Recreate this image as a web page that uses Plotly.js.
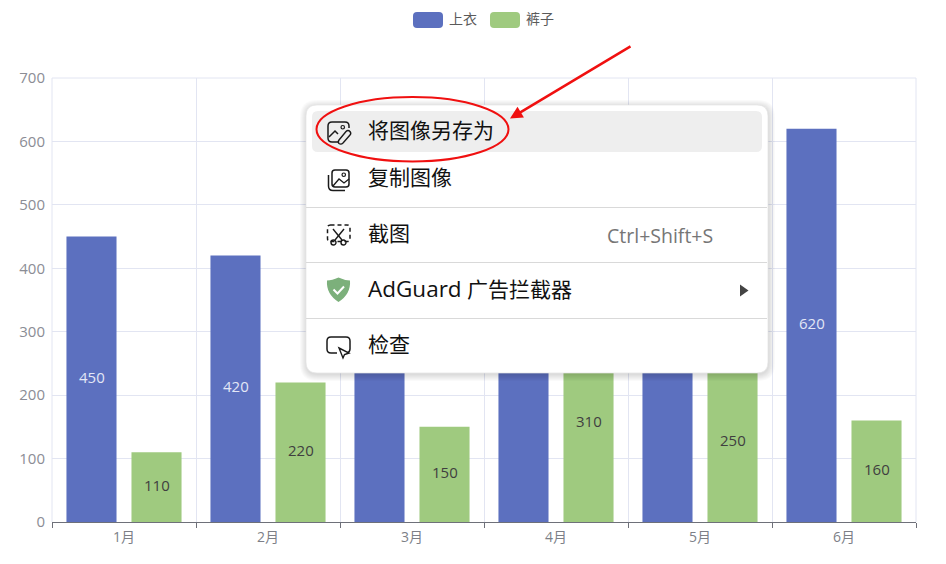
<!DOCTYPE html>
<html><head><meta charset="utf-8">
<script src="https://cdn.plot.ly/plotly-3.0.1.min.js"></script>
<style>html,body{margin:0;padding:0;background:#fff}#c{width:946px;height:564px}</style>
</head><body><div id="c"></div>
<script>
var categories = ['1月','2月','3月','4月','5月','6月'];
var seriesNames = ['上衣','裤子'];
var topsValues = [450,420,500,550,520,620];
var pantsValues = [110,220,150,310,250,160];
// the labels of 3月, 4月 and 5月 上衣 lie behind the context menu in the reference
var topsLabels = ['450','420','','','','620'];
var pantsLabels = ['110','220','150','310','250','160'];
var menuItems = ['将图像另存为','复制图像','截图','<span style="font-size:22.5px">AdGuard</span> 广告拦截器','检查'];
var shortcutText = 'Ctrl+Shift+S';

var W=946,H=564,L=52,R=916,T=78,B=522;
var FONT='"Open Sans","Noto Sans CJK SC",sans-serif';
function px(x){return (x-L)/(R-L);}
function py(y){return (B-y)/(B-T);}
function P(s){
  return s.replace(/(-?[\d.]+)[ ,](-?[\d.]+)/g,function(m,a,b){return px(+a).toFixed(5)+','+py(+b).toFixed(5);});
}
function rr(x0,y0,x1,y1,r){
  return P('M'+(x0+r)+' '+y0+' L'+(x1-r)+' '+y0+' Q'+x1+' '+y0+' '+x1+' '+(y0+r)+
    ' L'+x1+' '+(y1-r)+' Q'+x1+' '+y1+' '+(x1-r)+' '+y1+' L'+(x0+r)+' '+y1+
    ' Q'+x0+' '+y1+' '+x0+' '+(y1-r)+' L'+x0+' '+(y0+r)+' Q'+x0+' '+y0+' '+(x0+r)+' '+y0+' Z');
}
var GRID='#E2E5F2';
var shapes=[];
function fill(path,color){shapes.push({type:'path',xref:'paper',yref:'paper',layer:'above',path:path,fillcolor:color,line:{width:0}});}
function stroke(path,color,w,dash){shapes.push({type:'path',xref:'paper',yref:'paper',layer:'above',path:path,fillcolor:'rgba(0,0,0,0)',line:{color:color,width:w,dash:dash||'solid'}});}
function oval(x0,y0,x1,y1,color,w){shapes.push({type:'circle',xref:'paper',yref:'paper',layer:'above',x0:px(x0),x1:px(x1),y0:py(y0),y1:py(y1),fillcolor:'rgba(0,0,0,0)',line:{color:color,width:w}});}

// plot frame grid edges
[[0,0,0,1],[1,0,1,1],[0,1,1,1]].forEach(function(e){
  shapes.push({type:'line',xref:'paper',yref:'paper',layer:'below',x0:e[0],y0:e[1],x1:e[2],y1:e[3],line:{color:GRID,width:1}});
});

// legend swatches
fill(rr(413,12,443,28,4),'#5C70BF');
fill(rr(490,12,520,28,4),'#9FCA7F');

// menu shadow + body
for(var i=7;i>=1;i--){fill(rr(306-i+1,105-i+2,768+i,373+i+1,10+i),'rgba(0,0,0,0.02)');}
fill(rr(306,105,768,373,11),'#ffffff');
stroke(rr(306,105,768,373,11),'#e4e4e4',0.7);
fill(rr(312,111,762,152,6),'#eeeeee');
[207.5,262.5,318.5].forEach(function(y){stroke(P('M306 '+y+' L767 '+y),'#d9d9d9',1);});

var ink='#1a1a1a';
// icon: save image
stroke(P('M338 142 L332 142 Q328 142 328 138 L328 126 Q328 122 332 122 L345 122 Q349 122 349 126 L349 128'),ink,1.5);
stroke(P('M329 137 L335 131 L338 134'),ink,1.5);
oval(341,125.5,344.5,129,ink,1.2);
stroke(P('M339 140 L346 131.5 Q348 129.5 350 131.5 Q351.5 133.5 350 135 L343 143 Q341 145 339 143.5 Q337.5 142 339 140 Z'),ink,1.4);
// icon: copy image
stroke(rr(332,170,349,187,3),ink,1.5);
stroke(P('M333 186 L339 179 L344 183 L349 179'),ink,1.3);
oval(342,173,345.5,176.5,ink,1.2);
stroke(P('M328.5 175 L328.5 186 Q328.5 190.5 333 190.5 L345 190.5'),ink,1.5);
// icon: screenshot
stroke(rr(327.5,225,350,241.5,3),ink,1.5,'4px,3px');
stroke(P('M333 229 L342 240'),ink,1.4);
stroke(P('M344 229 L335 240'),ink,1.4);
oval(331,240,336,245,ink,1.4);
oval(341,240,346,245,ink,1.4);
// icon: shield
fill(P('M338.5 277.5 Q345 280.5 350 280.5 Q351 294 338.5 302 Q326 294 327 280.5 Q332 280.5 338.5 277.5 Z'),'#7CB07B');
stroke(P('M333.5 289.5 L337.5 293.5 L344 286.5'),'#ffffff',2);
// icon: inspect
stroke(P('M337 353 L331 353 Q327 353 327 349 L327 341 Q327 337 331 337 L346 337 Q350 337 350 341 L350 349 Q350 352 347 353'),ink,1.5);
stroke(P('M339 348 L349 353 L344.5 354.5 L343 358 Z'),ink,1.4);
// submenu triangle
fill(P('M740 284.5 L748.5 290.5 L740 296.5 Z'),'#444444');
// red oval highlight
oval(316.5,97,508.5,161.5,'#F01010',2);

var menuY=[130,177,233,288,344];
var anns=[];
function text(x,y,t,size,color,anchor){anns.push({xref:'paper',yref:'paper',x:px(x),y:py(y),text:t,showarrow:false,xanchor:anchor||'left',yanchor:'middle',font:{family:FONT,size:size,color:color}});}
menuItems.forEach(function(t,i){text(365.5,menuY[i],t,21,'#111111');});
text(605,235.5,shortcutText,19.5,'#767676');
text(447,18.5,seriesNames[0],14,'#5a5a5a');
text(524,18.5,seriesNames[1],14,'#5a5a5a');
// bar value labels, placed through the data scales
function barLabels(vals,labels,shift,color){
  vals.forEach(function(v,i){
    if(!labels[i])return;
    anns.push({xref:'x',yref:'y',x:categories[i],y:v/2,xshift:shift,yshift:2.5,text:labels[i],showarrow:false,xanchor:'center',yanchor:'middle',font:{family:FONT,size:15,color:color}});
  });
}
barLabels(topsValues,topsLabels,-32.5,'#E3E7F6');
barLabels(pantsValues,pantsLabels,32.5,'#3f3f3f');
// red arrow
anns.push({xref:'paper',yref:'paper',x:px(510),y:py(118.5),axref:'pixel',ayref:'pixel',ax:122,ay:-73,text:'',showarrow:true,arrowhead:2,arrowsize:1,arrowwidth:2.5,arrowcolor:'#F01010'});

var common={type:'bar',x:categories,hoverinfo:'skip'};
var data=[
 Object.assign({},common,{name:seriesNames[0],y:topsValues,marker:{color:'#5C70BF',line:{width:0}}}),
 Object.assign({},common,{name:seriesNames[1],y:pantsValues,marker:{color:'#9FCA7F',line:{width:0}}})
];
var layout={width:W,height:H,showlegend:false,paper_bgcolor:'#fff',plot_bgcolor:'#fff',
  margin:{l:L,r:W-R,t:T,b:H-B,pad:0},barmode:'group',bargap:0.097,bargroupgap:0.23,
  font:{family:FONT},
  xaxis:{type:'category',categoryorder:'array',categoryarray:categories,tickson:'boundaries',ticks:'outside',ticklen:5,tickwidth:1,tickcolor:'#6E7079',
    showline:true,linecolor:'#6E7079',linewidth:1,showgrid:true,gridcolor:GRID,gridwidth:1,
    tickfont:{family:FONT,size:14,color:'#7d7f87'},ticklabelstandoff:2,fixedrange:true},
  yaxis:{range:[0,700],tick0:0,dtick:100,ticks:'',showline:false,showgrid:true,gridcolor:GRID,gridwidth:1,zeroline:false,
    tickfont:{family:FONT,size:15,color:'#8b8d95'},ticklabelstandoff:6,fixedrange:true},
  shapes:shapes,annotations:anns};
Plotly.newPlot('c',data,layout,{displayModeBar:false,staticPlot:true});
</script></body></html>
